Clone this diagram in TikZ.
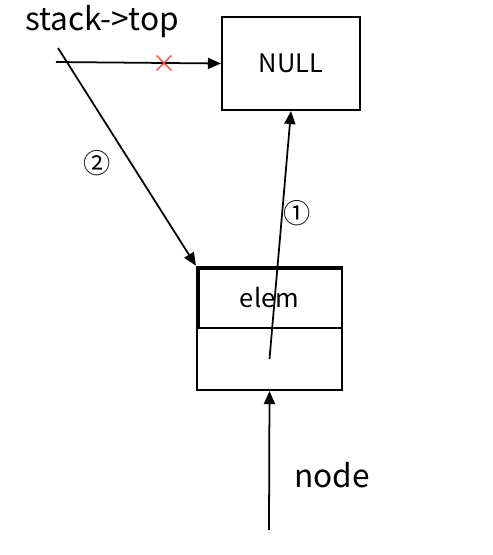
\documentclass[tikz,border=0pt]{standalone}
\usepackage{fontspec}
\setmainfont{Noto Sans CJK SC}
\usetikzlibrary{arrows.meta,positioning,shapes.misc}

\begin{document}
\begin{tikzpicture}[
x=0.02cm,y=-0.02cm,
box/.style={rectangle,draw,line width=1.2pt,minimum width=2.9cm,minimum height=1.23cm,inner sep=0pt,font=\fontsize{14.5}{16}\selectfont},
arr/.style={-{Triangle[length=2.6mm,width=2.2mm]},line width=1pt},
lbl/.style={font=\fontsize{18}{21}\selectfont},
num/.style={font=\fontsize{15.5}{17}\selectfont}
]
\useasboundingbox (0,0) rectangle (493,555);
% boxes
\node[box,minimum width=2.76cm,minimum height=1.86cm] (null) at (291,63.5) {NULL};
\node[box] (elem) at (269.5,297.5) {elem};
\node[box,minimum height=1.24cm] (next) at (269.5,359) {};
\draw[line width=2.6pt] ([xshift=1.2pt]elem.south west) -- ([xshift=1.2pt,yshift=-1.2pt]elem.north west) -- ([yshift=-1.2pt]elem.north east);

% labels
\node[lbl] (top) at (102,22) {stack->top};
\node[lbl] (nodelbl) at (332,475) {node};
\node[num] (two) at (97,163) {②};
\node[num] (one) at (297,213) {①};

\coordinate (topa) at (56,62);
\coordinate (topb) at (58,48);
\coordinate (nodep) at (269,530);

\draw[arr] (topa) -- (null.west);
\node[cross out,draw=red!75,line width=0.7pt,minimum size=0.28cm,inner sep=0pt] (cut) at (164,63) {};
\draw[arr] (next.center) -- (null.south);
\draw[arr] (topb) -- (elem.north west);
\draw[arr] (nodep) -- (next.south);
\end{tikzpicture}
\end{document}
